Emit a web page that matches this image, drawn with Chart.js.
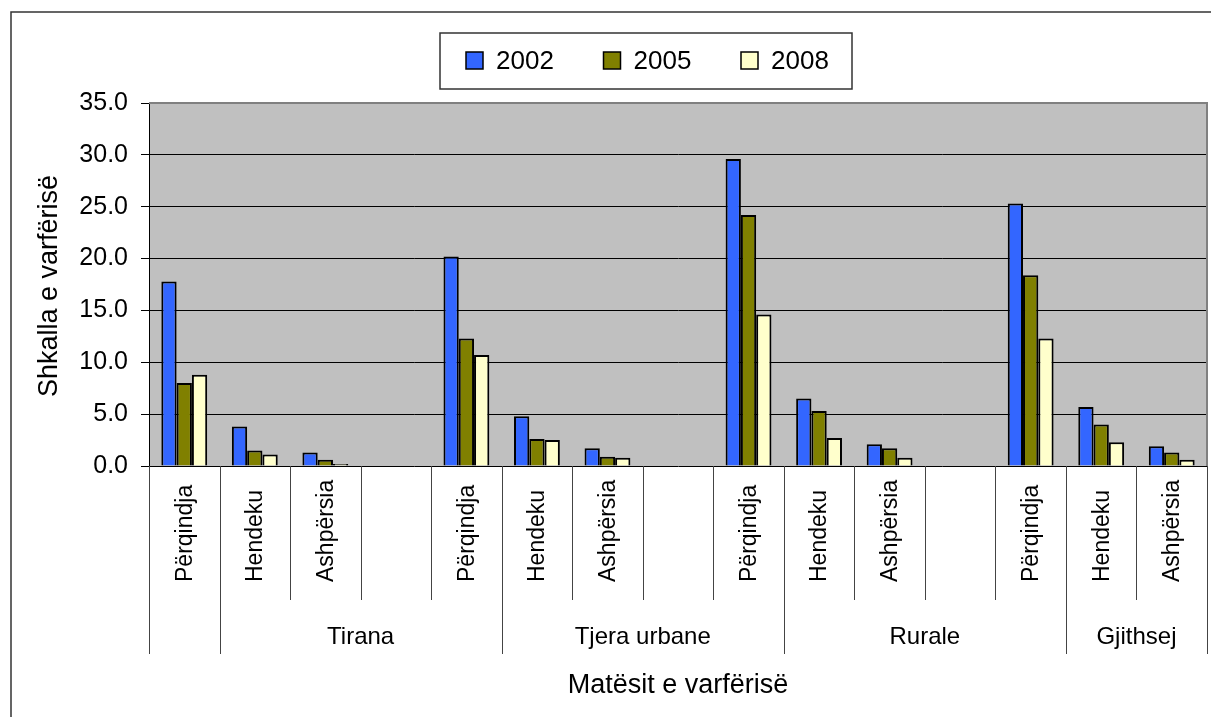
<!DOCTYPE html>
<html>
<head>
<meta charset="utf-8">
<script src="https://cdn.jsdelivr.net/npm/chart.js@4"></script>
<style>
  body { margin: 0; background: #fff; }
</style>
</head>
<body>
<canvas id="Graph" width="1211" height="717"></canvas>
<script>
// categories along the x axis (blank ones are the gaps between regions)
const categories = ['Përqindja', 'Hendeku', 'Ashpërsia', '',
  'Përqindja', 'Hendeku', 'Ashpërsia', '',
  'Përqindja', 'Hendeku', 'Ashpërsia', '',
  'Përqindja', 'Hendeku', 'Ashpërsia'];

// second row of labels and the category index where each one starts
const groupLabels = ['', 'Tirana', 'Tjera urbane', 'Rurale', 'Gjithsej'];
const groupStarts = [0, 1, 5, 9, 13];

const years = ['2002', '2005', '2008'];
const values2002 = [17.8, 3.8, 1.3, null, 20.2, 4.8, 1.7, null, 29.6, 6.5, 2.1, null, 25.3, 5.7, 1.9];
const values2005 = [8.0, 1.5, 0.6, null, 12.3, 2.6, 0.9, null, 24.2, 5.3, 1.7, null, 18.4, 4.0, 1.3];
const values2008 = [8.8, 1.1, 0.2, null, 10.7, 2.5, 0.8, null, 14.6, 2.7, 0.8, null, 12.3, 2.3, 0.6];
const yTicks = [0, 5, 10, 15, 20, 25, 30, 35];

const yTitle = 'Shkalla e varfërisë';
const xTitle = 'Matësit e varfërisë';
const colors = ['#3366ff', '#808000', '#ffffcc'];

const FONT = '"Liberation Sans", Arial, sans-serif';

// grey plot background and the outer frame
const backdrop = {
  id: 'backdrop',
  beforeDraw(chart) {
    const c = chart.ctx, a = chart.chartArea;
    c.save();
    c.fillStyle = '#fff';
    c.fillRect(0, 0, chart.width, chart.height);
    c.fillStyle = '#c0c0c0';
    c.fillRect(a.left, a.top, a.right - a.left, a.bottom - a.top);
    c.strokeStyle = '#333';
    c.lineWidth = 1.5;
    c.strokeRect(11, 12, chart.width + 20, chart.height + 20);
    c.restore();
  }
};

// legend box, two rows of x labels, axis titles
const extras = {
  id: 'extras',
  afterDraw(chart) {
    const c = chart.ctx, a = chart.chartArea;
    const xs = chart.scales.x;
    const half = (xs.getPixelForValue(1) - xs.getPixelForValue(0)) / 2;
    c.save();

    // plot frame top + right
    c.strokeStyle = '#808080';
    c.lineWidth = 2;
    c.beginPath();
    c.moveTo(a.left, a.top);
    c.lineTo(a.right, a.top);
    c.lineTo(a.right, a.bottom);
    c.stroke();

    // legend
    c.fillStyle = '#fff';
    c.fillRect(440, 33, 412, 56);
    c.strokeStyle = '#333';
    c.lineWidth = 1.5;
    c.strokeRect(440, 33, 412, 56);
    c.font = '26px ' + FONT;
    c.textBaseline = 'middle';
    c.textAlign = 'left';
    chart.data.datasets.forEach((ds, i) => {
      const x0 = 466 + i * 137.5;
      c.fillStyle = ds.backgroundColor;
      c.fillRect(x0, 52, 17, 17);
      c.strokeStyle = '#000';
      c.lineWidth = 1.5;
      c.strokeRect(x0, 52, 17, 17);
      c.fillStyle = '#000';
      c.fillText(ds.label, x0 + 30, 62);
    });

    // category separators and rotated labels
    const groupEdges = groupStarts.concat([categories.length]);
    c.strokeStyle = '#444';
    c.lineWidth = 1;
    for (let i = 0; i <= categories.length; i++) {
      const x = Math.round(xs.getPixelForValue(i) - half) + 0.5;
      const long = groupEdges.includes(i);
      c.beginPath();
      c.moveTo(x, a.bottom);
      c.lineTo(x, long ? 654 : 600);
      c.stroke();
    }
    c.fillStyle = '#000';
    c.font = '23px ' + FONT;
    categories.forEach((lab, i) => {
      if (!lab) return;
      c.save();
      c.translate(xs.getPixelForValue(i) + 1, 582);
      c.rotate(-Math.PI / 2);
      c.textAlign = 'left';
      c.textBaseline = 'middle';
      c.fillText(lab, 0, 0);
      c.restore();
    });

    // group labels
    c.font = '24px ' + FONT;
    c.textAlign = 'center';
    c.textBaseline = 'middle';
    groupLabels.forEach((lab, g) => {
      if (!lab) return;
      const x1 = xs.getPixelForValue(groupStarts[g]) - half;
      const x2 = xs.getPixelForValue(groupEdges[g + 1] - 1) + half;
      c.fillText(lab, (x1 + x2) / 2, 637);
    });

    // axis titles
    c.font = '27px ' + FONT;
    c.fillText(xTitle, (a.left + a.right) / 2, 686);
    c.save();
    c.translate(50, 286);
    c.rotate(-Math.PI / 2);
    c.fillText(yTitle, 0, 0);
    c.restore();

    c.restore();
  }
};

const seriesValues = [values2002, values2005, values2008];

new Chart(document.getElementById('Graph').getContext('2d'), {
  type: 'bar',
  data: {
    labels: categories,
    datasets: years.map((y, i) => ({
      label: y,
      data: seriesValues[i],
      backgroundColor: colors[i],
      borderColor: '#000',
      borderWidth: 2,
      categoryPercentage: 0.65,
      barPercentage: 1.0
    }))
  },
  options: {
    responsive: false,
    animation: false,
    layout: { padding: { left: 0, top: 103, right: 4, bottom: 251 } },
    plugins: { legend: { display: false }, tooltip: { enabled: false } },
    scales: {
      x: { display: false },
      y: {
        min: 0,
        max: 35,
        afterFit: (s) => { s.width = 149; },
        afterBuildTicks: (s) => { s.ticks = yTicks.map(v => ({ value: v })); },
        ticks: {
          color: '#000',
          font: { family: FONT, size: 25 },
          padding: 13,
          callback: (v) => Number(v).toFixed(1)
        },
        grid: {
          color: (ctx) => (ctx.tick && ctx.tick.value === 35 ? '#808080' : '#000'),
          tickColor: '#000',
          tickLength: 8,
          lineWidth: 1
        },
        border: { display: true, color: '#000', width: 1 }
      }
    }
  },
  plugins: [backdrop, extras]
});
</script>
</body>
</html>
